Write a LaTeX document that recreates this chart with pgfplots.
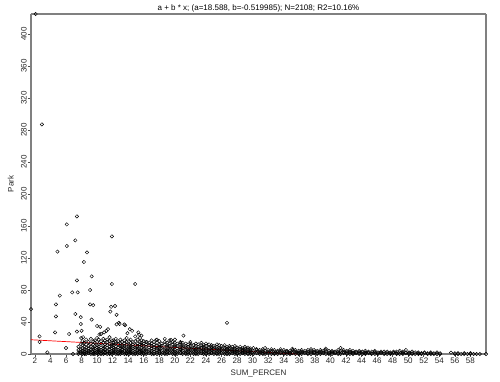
\documentclass[border=0pt]{standalone}
\usepackage{fontspec}
\setmainfont{Liberation Sans}
\usepackage{pgfplots}
\pgfplotsset{compat=1.18}
\begin{document}
\begin{tikzpicture}
\begin{axis}[
  scale only axis, width=455pt, height=340pt,
  xmin=1.5, xmax=60, ymin=0, ymax=425,
  xtick={2,4,...,58}, ytick={0,40,...,400},
  tick align=outside, major tick length=3pt,
  xtick pos=bottom, ytick pos=left,
  tick style={draw=black!70, line width=0.6pt},
  separate axis lines,
  axis line style={draw=black!50, line width=1.3pt},
  /pgf/number format/assume math mode=true,
  tick label style={font=\fontsize{8}{9}\selectfont, text=black!85},
  xticklabel style={inner sep=1pt, yshift=0pt},
  yticklabel style={rotate=90, anchor=south, inner sep=1pt},
  label style={font=\fontsize{8}{9}\selectfont, text=black!85},
  xlabel={SUM\_PERCEN}, ylabel={Park},
  xlabel style={at={(axis description cs:0.5,0)}, anchor=north, yshift=-15pt, inner sep=1pt},
  ylabel style={at={(axis description cs:0,0.5)}, anchor=south, yshift=16pt, inner sep=1pt},
  title={a + b * x; (a=18.588, b=-0.519985); N=2108; R2=10.16\%},
  title style={font=\fontsize{8}{9}\selectfont, at={(axis description cs:0.5,1)}, anchor=south, inner sep=1pt, yshift=-5pt},
  clip=false,
]
\addplot[only marks, mark=o, mark size=1.7pt, mark options={draw=black, line width=0.45pt}] coordinates {
(1.5,56) (2.1,425) (2.9,287) (2.6,22) (2.6,15) (3.6,2) (4.6,27) (4.7,47) (4.7,62) (4.9,128)
(5.2,73) (6.0,7.5) (6.1,162) (6.1,135) (6.4,25) (6.8,77) (6.9,0) (7.2,142) (7.2,50) (7.4,172)
(7.4,92) (7.4,28) (7.5,77) (7.9,46) (7.9,37.5) (8.0,29) (7.95,20) (8.2,21) (8.3,115) (8.3,14)
(8.7,127) (9.1,80) (9.1,62) (9.3,97) (9.3,43) (9.5,61) (10.0,35) (10.4,34) (10.5,25) (10.9,27)
(10.3,24.5) (11.2,29) (11.4,31) (11.7,53) (11.8,59) (11.9,147) (11.9,87.5) (12.3,60) (12.5,49) (12.5,37)
(12.9,37.5) (12.8,39) (13.5,37) (13.6,36) (13.9,26) (14.2,31) (14.5,29) (14.9,87.5) (15.3,27) (15.4,24)
(15.5,20) (16.4,15) (21.1,23) (26.7,39) (12.1,17) (19.5,17.5) (17.6,17.5) (20.7,14)
(7.6,0) (7.6,2) (7.6,5) (7.6,9)
(7.9,1) (7.9,3) (7.9,6) (7.9,12)
(8.1,0) (8.1,2) (8.1,4) (8.1,7) (8.1,11) (8.1,16)
(8.4,0) (8.4,1) (8.4,3) (8.4,6) (8.4,9) (8.4,14)
(8.6,0) (8.6,2) (8.6,5) (8.6,8) (8.6,12) (8.6,18)
(8.9,1) (8.9,3) (8.9,4) (8.9,7) (8.9,10) (8.9,15)
(9.2,0) (9.2,2) (9.2,5) (9.2,6) (9.2,9) (9.2,13) (9.2,19)
(9.5,0) (9.5,1) (9.5,3) (9.5,6) (9.5,8) (9.5,12) (9.5,16)
(9.7,0) (9.7,2) (9.7,4) (9.7,7) (9.7,10) (9.7,14) (9.7,17)
(10.0,1) (10.0,3) (10.0,5) (10.0,8) (10.0,11) (10.0,15) (10.0,20)
(10.2,0) (10.2,2) (10.2,4) (10.2,6) (10.2,9) (10.2,12) (10.2,18)
(10.5,0) (10.5,1) (10.5,3) (10.5,5) (10.5,8) (10.5,13) (10.5,16)
(10.8,0) (10.8,2) (10.8,4) (10.8,7) (10.8,10) (10.8,14) (10.8,19)
(11.0,1) (11.0,2) (11.0,5) (11.0,6) (11.0,9) (11.0,12) (11.0,17)
(11.3,0) (11.3,3) (11.3,4) (11.3,8) (11.3,11) (11.3,15) (11.3,18)
(11.6,0) (11.6,1) (11.6,3) (11.6,6) (11.6,9) (11.6,13) (11.6,16) (11.6,21)
(11.9,0) (11.9,2) (11.9,4) (11.9,7) (11.9,10) (11.9,12) (11.9,17)
(12.1,1) (12.1,3) (12.1,5) (12.1,8) (12.1,11) (12.1,14)
(12.4,0) (12.4,2) (12.4,4) (12.4,6) (12.4,9) (12.4,13) (12.4,15) (12.4,19)
(12.7,0) (12.7,1) (12.7,3) (12.7,5) (12.7,8) (12.7,12) (12.7,16)
(13.0,0) (13.0,2) (13.0,4) (13.0,7) (13.0,10) (13.0,14) (13.0,18)
(13.2,1) (13.2,3) (13.2,5) (13.2,6) (13.2,9) (13.2,11) (13.2,15)
(13.5,0) (13.5,2) (13.5,4) (13.5,8) (13.5,10) (13.5,13) (13.5,17)
(13.8,0) (13.8,1) (13.8,3) (13.8,5) (13.8,7) (13.8,12) (13.8,15) (13.8,20)
(14.1,0) (14.1,2) (14.1,4) (14.1,6) (14.1,9) (14.1,11) (14.1,16)
(14.3,1) (14.3,3) (14.3,5) (14.3,8) (14.3,10) (14.3,14) (14.3,18)
(14.6,0) (14.6,2) (14.6,4) (14.6,7) (14.6,9) (14.6,12) (14.6,15)
(14.9,0) (14.9,1) (14.9,3) (14.9,6) (14.9,8) (14.9,11) (14.9,16) (14.9,22)
(15.2,0) (15.2,2) (15.2,5) (15.2,7) (15.2,10) (15.2,13) (15.2,18)
(15.5,1) (15.5,3) (15.5,4) (15.5,6) (15.5,9) (15.5,12) (15.5,15)
(15.7,0) (15.7,2) (15.7,4) (15.7,8) (15.7,11) (15.7,14) (15.7,17) (15.7,23)
(16.0,0) (16.0,1) (16.0,3) (16.0,5) (16.0,7) (16.0,10) (16.0,13) (16.0,16)
(16.3,0) (16.3,2) (16.3,4) (16.3,6) (16.3,9) (16.3,12) (16.3,15)
(16.7,1) (16.7,3) (16.7,5) (16.7,8) (16.7,11) (16.7,14)
(17.0,0) (17.0,2) (17.0,4) (17.0,7) (17.0,10) (17.0,13) (17.0,17)
(17.3,0) (17.3,1) (17.3,3) (17.3,6) (17.3,8) (17.3,12) (17.3,15)
(17.7,0) (17.7,2) (17.7,5) (17.7,7) (17.7,10) (17.7,14) (17.7,18)
(18.0,1) (18.0,3) (18.0,4) (18.0,6) (18.0,9) (18.0,11) (18.0,16)
(18.3,0) (18.3,2) (18.3,4) (18.3,8) (18.3,10) (18.3,13)
(18.7,0) (18.7,1) (18.7,3) (18.7,5) (18.7,7) (18.7,12) (18.7,15) (18.7,19)
(19.0,0) (19.0,2) (19.0,4) (19.0,6) (19.0,9) (19.0,11) (19.0,14)
(19.3,1) (19.3,3) (19.3,5) (19.3,7) (19.3,10) (19.3,13) (19.3,17)
(19.7,0) (19.7,2) (19.7,4) (19.7,6) (19.7,8) (19.7,12) (19.7,15)
(20.0,0) (20.0,1) (20.0,3) (20.0,5) (20.0,9) (20.0,11) (20.0,14) (20.0,18)
(20.3,0) (20.3,2) (20.3,4) (20.3,7) (20.3,10) (20.3,13)
(20.7,1) (20.7,3) (20.7,5) (20.7,6) (20.7,8) (20.7,12) (20.7,15)
(21.0,0) (21.0,2) (21.0,4) (21.0,7) (21.0,9) (21.0,11) (21.0,14)
(21.4,0) (21.4,1) (21.4,3) (21.4,5) (21.4,8) (21.4,10) (21.4,13)
(21.7,0) (21.7,2) (21.7,4) (21.7,6) (21.7,9) (21.7,12)
(22.0,1) (22.0,3) (22.0,5) (22.0,7) (22.0,10) (22.0,13) (22.0,15)
(22.4,0) (22.4,2) (22.4,4) (22.4,6) (22.4,8) (22.4,11)
(22.7,0) (22.7,1) (22.7,3) (22.7,5) (22.7,7) (22.7,10) (22.7,13)
(23.0,0) (23.0,2) (23.0,4) (23.0,6) (23.0,9) (23.0,12)
(23.4,1) (23.4,3) (23.4,4) (23.4,7) (23.4,8) (23.4,11) (23.4,14)
(23.7,0) (23.7,2) (23.7,4) (23.7,6) (23.7,9) (23.7,11)
(24.0,0) (24.0,1) (24.0,3) (24.0,5) (24.0,7) (24.0,10) (24.0,13)
(24.4,0) (24.4,2) (24.4,4) (24.4,6) (24.4,8) (24.4,12)
(24.7,1) (24.7,3) (24.7,5) (24.7,7) (24.7,9) (24.7,11)
(25.0,0) (25.0,2) (25.0,3) (25.0,6) (25.0,8) (25.0,10)
(25.4,0) (25.4,1) (25.4,3) (25.4,5) (25.4,7) (25.4,9) (25.4,12)
(25.7,0) (25.7,2) (25.7,4) (25.7,6) (25.7,8) (25.7,11)
(26.0,1) (26.0,3) (26.0,5) (26.0,7) (26.0,10)
(26.4,0) (26.4,2) (26.4,4) (26.4,6) (26.4,8) (26.4,11)
(26.7,0) (26.7,1) (26.7,3) (26.7,5) (26.7,7) (26.7,9)
(27.0,0) (27.0,2) (27.0,4) (27.0,6) (27.0,8) (27.0,10)
(27.4,1) (27.4,3) (27.4,4) (27.4,6) (27.4,9)
(27.7,0) (27.7,2) (27.7,3) (27.7,5) (27.7,7) (27.7,10)
(28.0,0) (28.0,1) (28.0,3) (28.0,5) (28.0,6) (28.0,8)
(28.4,0) (28.4,2) (28.4,4) (28.4,6) (28.4,9)
(28.7,1) (28.7,2) (28.7,4) (28.7,5) (28.7,7)
(29.0,0) (29.0,2) (29.0,3) (29.0,5) (29.0,7) (29.0,9)
(29.4,0) (29.4,1) (29.4,3) (29.4,4) (29.4,6) (29.4,8)
(29.7,0) (29.7,2) (29.7,3) (29.7,5) (29.7,7)
(30.1,0) (30.1,2) (30.1,4) (30.1,7.5)
(30.5,1) (30.5,3) (30.5,5) (30.5,6)
(30.9,0) (30.9,2) (30.9,3) (30.9,5)
(31.3,0) (31.3,1) (31.3,3) (31.3,4) (31.3,6)
(31.6,0) (31.6,2) (31.6,4) (31.6,7.5)
(32.0,1) (32.0,2) (32.0,3) (32.0,5)
(32.4,0) (32.4,2) (32.4,4) (32.4,6)
(32.8,0) (32.8,1) (32.8,3) (32.8,5)
(33.2,0) (33.2,2) (33.2,3) (33.2,4)
(33.6,1) (33.6,2) (33.6,4) (33.6,6)
(34.0,0) (34.0,1) (34.0,3) (34.0,5)
(34.4,0) (34.4,2) (34.4,3) (34.4,4)
(34.8,0) (34.8,1) (34.8,2) (34.8,4)
(35.1,1) (35.1,3) (35.1,5) (35.1,6.6)
(35.5,0) (35.5,2) (35.5,3) (35.5,5)
(35.9,0) (35.9,1) (35.9,2) (35.9,4)
(36.3,0) (36.3,2) (36.3,3) (36.3,5)
(36.7,1) (36.7,2) (36.7,4)
(37.1,0) (37.1,1) (37.1,3) (37.1,5)
(37.5,0) (37.5,2) (37.5,4) (37.5,6)
(37.9,1) (37.9,2) (37.9,3) (37.9,5)
(38.3,0) (38.3,1) (38.3,3) (38.3,4)
(38.7,0) (38.7,2) (38.7,3) (38.7,5)
(39.1,1) (39.1,2) (39.1,4)
(39.4,0) (39.4,3) (39.4,5) (39.4,6.7)
(39.8,0) (39.8,1) (39.8,2) (39.8,4)
(40.2,0) (40.2,2) (40.2,3) (40.2,4)
(40.6,1) (40.6,2) (40.6,3)
(41.0,0) (41.0,1) (41.0,3) (41.0,5)
(41.3,0) (41.3,2) (41.3,4) (41.3,7.5)
(41.7,1) (41.7,2) (41.7,3) (41.7,5)
(42.1,0) (42.1,1) (42.1,3) (42.1,4)
(42.5,0) (42.5,2) (42.5,3) (42.5,5)
(42.9,0) (42.9,1) (42.9,2) (42.9,4)
(43.3,1) (43.3,2) (43.3,3)
(43.7,0) (43.7,1) (43.7,3) (43.7,4)
(44.1,0) (44.1,2) (44.1,3)
(44.5,0) (44.5,1) (44.5,2) (44.5,4)
(44.9,1) (44.9,2) (44.9,3)
(45.3,0) (45.3,1) (45.3,3)
(45.7,0) (45.7,2) (45.7,3) (45.7,4)
(46.1,0) (46.1,1) (46.1,2)
(46.5,1) (46.5,2) (46.5,3)
(46.9,0) (46.9,1) (46.9,3)
(47.3,0) (47.3,2) (47.3,3)
(47.7,0) (47.7,1) (47.7,2)
(48.1,1) (48.1,2) (48.1,3)
(48.5,0) (48.5,1) (48.5,3)
(48.9,0) (48.9,2) (48.9,4)
(49.3,0) (49.3,1) (49.3,2) (49.3,3)
(49.7,1) (49.7,2) (49.7,5)
(50.1,0) (50.1,1) (50.1,2)
(50.5,0) (50.5,1) (50.5,3)
(50.9,0) (50.9,2)
(51.3,0) (51.3,1) (51.3,2)
(51.7,0) (51.7,1)
(52.1,1) (52.1,2)
(52.5,0) (52.5,1)
(52.9,0) (52.9,1) (52.9,2)
(53.3,0) (53.3,1)
(53.7,0) (53.7,2)
(54.1,0) (54.1,1)
(55.5,1.6) (56.0,0) (56.0,1) (56.4,0) (56.4,1) (56.8,0) (57.2,0) (57.2,1)
(57.6,0) (58.0,0) (58.0,1) (58.4,0) (58.8,0) (59.2,0) (60.0,0)
};
\addplot[red, line width=0.7pt] coordinates {(1.5,17.81) (35.75,0)};
\end{axis}
\pgfresetboundingbox
\path[use as bounding box] ([xshift=-31pt,yshift=-28pt]current axis.south west) rectangle ([xshift=14pt,yshift=14pt]current axis.north east);
\end{tikzpicture}
\end{document}
